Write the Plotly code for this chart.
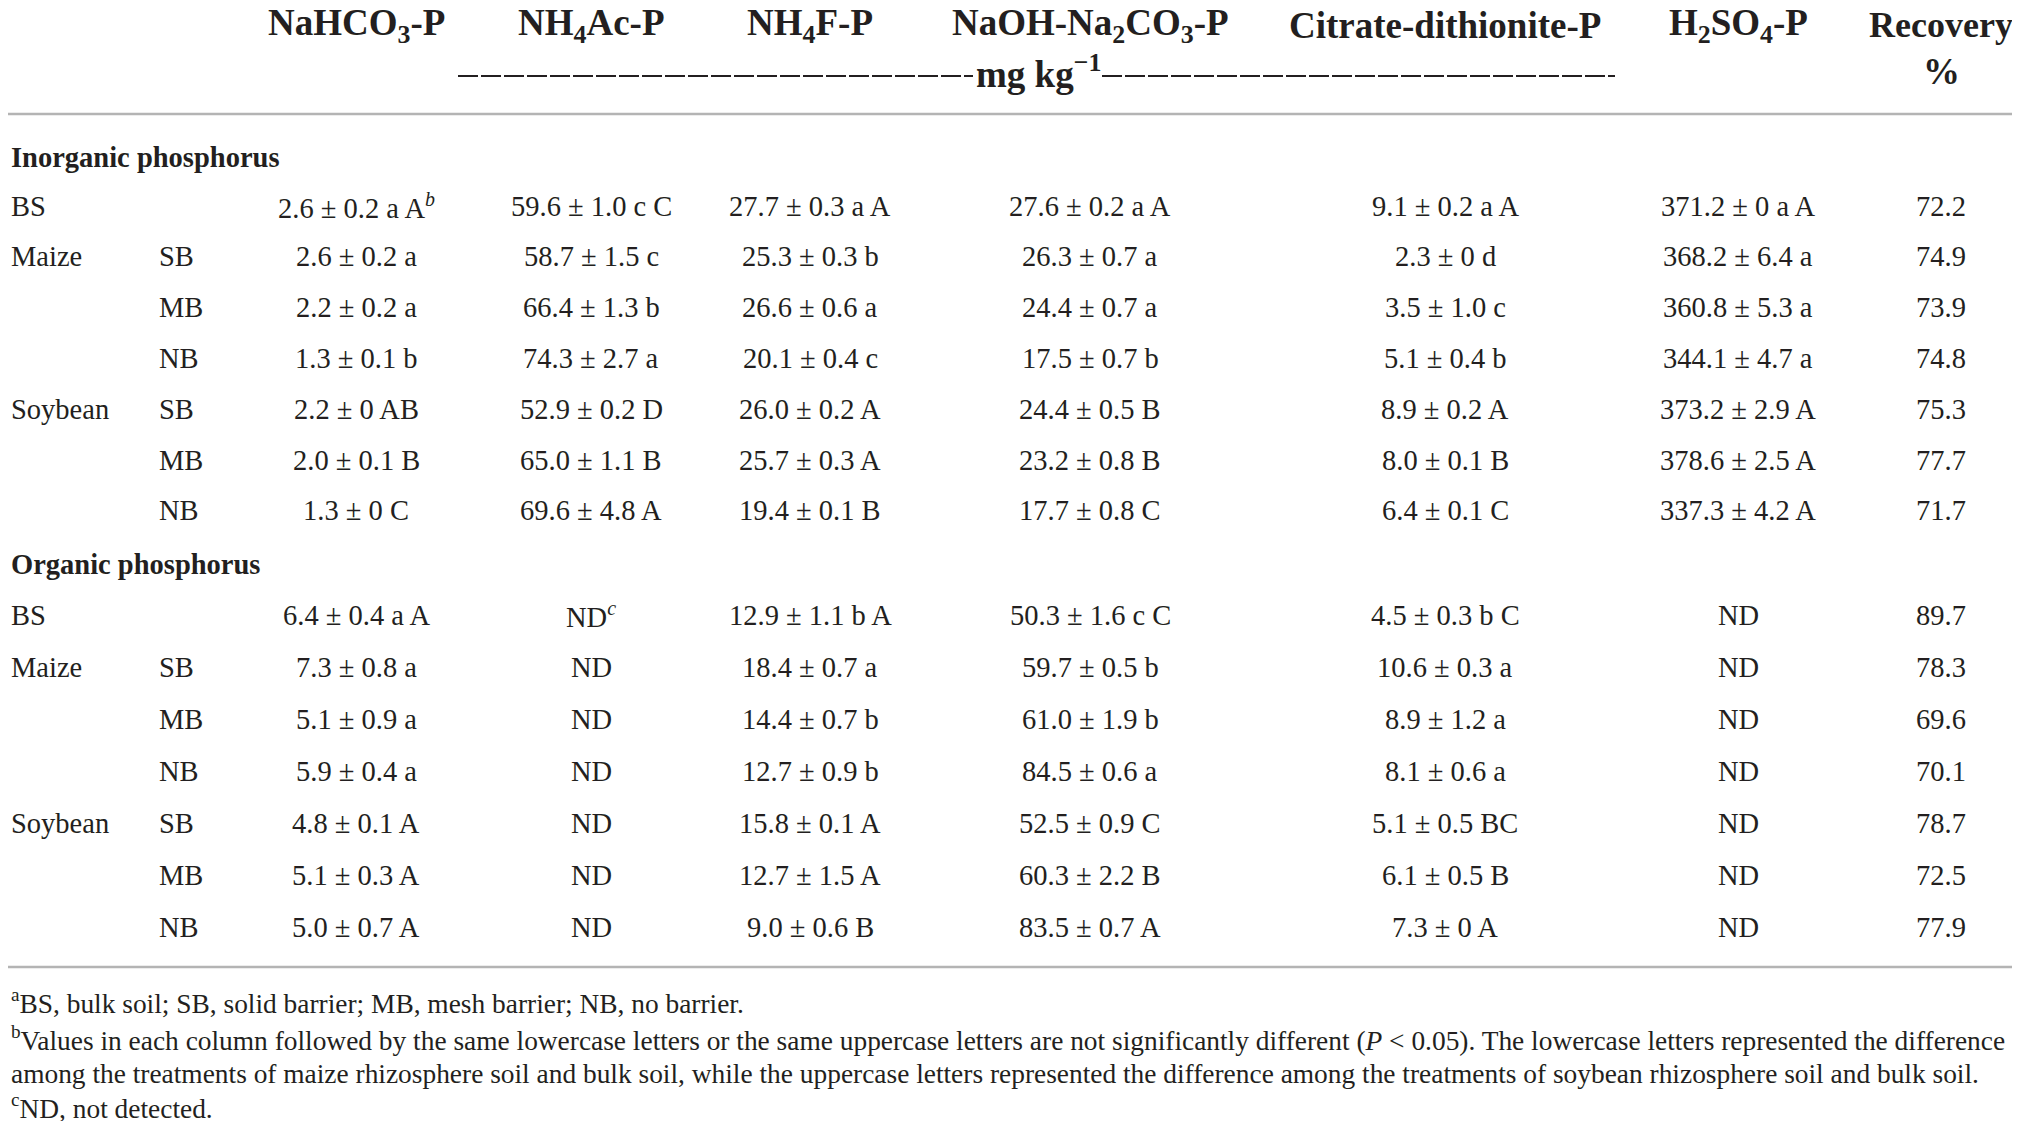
import plotly.graph_objects as go

# ---------------- data ----------------
col_headers = ["NaHCO<sub>3</sub>-P", "NH<sub>4</sub>Ac-P", "NH<sub>4</sub>F-P",
               "NaOH-Na<sub>2</sub>CO<sub>3</sub>-P", "Citrate-dithionite-P",
               "H<sub>2</sub>SO<sub>4</sub>-P", "Recovery"]
unit_main = "mg kg<sup>−1</sup>"
unit_recovery = "%"

section_titles = ["Inorganic phosphorus", "Organic phosphorus"]
groups = ["BS", "Maize", "", "", "Soybean", "", ""]
treatments = ["", "SB", "MB", "NB", "SB", "MB", "NB"]

inorg_nahco3 = ["2.6 ± 0.2 a A<sup><i>b</i></sup>", "2.6 ± 0.2 a", "2.2 ± 0.2 a", "1.3 ± 0.1 b",
                "2.2 ± 0 AB", "2.0 ± 0.1 B", "1.3 ± 0 C"]
inorg_nh4ac = ["59.6 ± 1.0 c C", "58.7 ± 1.5 c", "66.4 ± 1.3 b", "74.3 ± 2.7 a",
               "52.9 ± 0.2 D", "65.0 ± 1.1 B", "69.6 ± 4.8 A"]
inorg_nh4f = ["27.7 ± 0.3 a A", "25.3 ± 0.3 b", "26.6 ± 0.6 a", "20.1 ± 0.4 c",
              "26.0 ± 0.2 A", "25.7 ± 0.3 A", "19.4 ± 0.1 B"]
inorg_naoh = ["27.6 ± 0.2 a A", "26.3 ± 0.7 a", "24.4 ± 0.7 a", "17.5 ± 0.7 b",
              "24.4 ± 0.5 B", "23.2 ± 0.8 B", "17.7 ± 0.8 C"]
inorg_citrate = ["9.1 ± 0.2 a A", "2.3 ± 0 d", "3.5 ± 1.0 c", "5.1 ± 0.4 b",
                 "8.9 ± 0.2 A", "8.0 ± 0.1 B", "6.4 ± 0.1 C"]
inorg_h2so4 = ["371.2 ± 0 a A", "368.2 ± 6.4 a", "360.8 ± 5.3 a", "344.1 ± 4.7 a",
               "373.2 ± 2.9 A", "378.6 ± 2.5 A", "337.3 ± 4.2 A"]
inorg_recovery = ["72.2", "74.9", "73.9", "74.8", "75.3", "77.7", "71.7"]

org_nahco3 = ["6.4 ± 0.4 a A", "7.3 ± 0.8 a", "5.1 ± 0.9 a", "5.9 ± 0.4 a",
              "4.8 ± 0.1 A", "5.1 ± 0.3 A", "5.0 ± 0.7 A"]
org_nh4ac = ["ND<sup><i>c</i></sup>", "ND", "ND", "ND", "ND", "ND", "ND"]
org_nh4f = ["12.9 ± 1.1 b A", "18.4 ± 0.7 a", "14.4 ± 0.7 b", "12.7 ± 0.9 b",
            "15.8 ± 0.1 A", "12.7 ± 1.5 A", "9.0 ± 0.6 B"]
org_naoh = ["50.3 ± 1.6 c C", "59.7 ± 0.5 b", "61.0 ± 1.9 b", "84.5 ± 0.6 a",
            "52.5 ± 0.9 C", "60.3 ± 2.2 B", "83.5 ± 0.7 A"]
org_citrate = ["4.5 ± 0.3 b C", "10.6 ± 0.3 a", "8.9 ± 1.2 a", "8.1 ± 0.6 a",
               "5.1 ± 0.5 BC", "6.1 ± 0.5 B", "7.3 ± 0 A"]
org_h2so4 = ["ND", "ND", "ND", "ND", "ND", "ND", "ND"]
org_recovery = ["89.7", "78.3", "69.6", "70.1", "78.7", "72.5", "77.9"]

footnotes = [
    "<sup>a</sup>BS, bulk soil; SB, solid barrier; MB, mesh barrier; NB, no barrier.",
    "<sup>b</sup>Values in each column followed by the same lowercase letters or the same uppercase letters are not significantly different (<i>P</i> &lt; 0.05). The lowercase letters represented the difference",
    "among the treatments of maize rhizosphere soil and bulk soil, while the uppercase letters represented the difference among the treatments of soybean rhizosphere soil and bulk soil.",
    "<sup>c</sup>ND, not detected.",
]

# ---------------- layout constants (pixels of the 2020x1129 page) ----------------
PAGE_W, PAGE_H = 2020, 1129
BODY = 8                      # default page margin around the plot div
W, H = PAGE_W - 2 * BODY, PAGE_H - 2 * BODY
FONT = "Liberation Serif"
TXT = "#231f20"
HDR_SIZE = 37
HDR_SIZE_LAST = 36
DATA_SIZE = 28.5
FOOT_SIZE = 27.4
col_x = [356, 591, 810, 1090, 1445, 1738, 1941]
group_x = 8.5
treat_x = 157
header_y = 25
unit_y = 71
unit_x = 1038
dash_left = (458, 973)
dash_right = (1102, 1615)
dash_y = 76
rule_top = 114
sec_y = [157, 564]
first_row_y = [206, 615]
row_step = [50.8, 52.0]
rule_bottom = 967
foot_y = [1001, 1038, 1074, 1106]

inorg_cols = [inorg_nahco3, inorg_nh4ac, inorg_nh4f, inorg_naoh, inorg_citrate, inorg_h2so4, inorg_recovery]
org_cols = [org_nahco3, org_nh4ac, org_nh4f, org_naoh, org_citrate, org_h2so4, org_recovery]

ann = []

def add(text, x, y, size, xanchor="center", bold=False):
    ann.append(dict(text=("<b>%s</b>" % text) if bold else text, x=x, y=y, xref="x", yref="y",
                    xanchor=xanchor, yanchor="middle", showarrow=False,
                    font=dict(family=FONT, size=size, color=TXT)))

for i, (h, x) in enumerate(zip(col_headers, col_x)):
    add(h, x, header_y, HDR_SIZE_LAST if i == len(col_headers) - 1 else HDR_SIZE, bold=True)

add(unit_main, unit_x, unit_y, HDR_SIZE, bold=True)
add(unit_recovery, col_x[6], unit_y, HDR_SIZE, bold=True)

for s, (title, cols) in enumerate(zip(section_titles, [inorg_cols, org_cols])):
    add(title, group_x, sec_y[s], DATA_SIZE, xanchor="left", bold=True)
    for r in range(len(groups)):
        y = first_row_y[s] + r * row_step[s]
        if groups[r]:
            add(groups[r], group_x, y, DATA_SIZE, xanchor="left")
        if treatments[r]:
            add(treatments[r], treat_x, y, DATA_SIZE, xanchor="left")
        for c, x in enumerate(col_x):
            add(cols[c][r], x, y, DATA_SIZE)

for t, y in zip(footnotes, foot_y):
    add(t, group_x, y, FOOT_SIZE, xanchor="left")

fig = go.Figure()
fig.add_trace(go.Scatter(x=[BODY, PAGE_W - BODY], y=[BODY, PAGE_H - BODY], mode="markers",
                         marker=dict(opacity=0), hoverinfo="skip", showlegend=False))
for y in (rule_top, rule_bottom):
    fig.add_shape(type="line", x0=BODY, x1=2014, y0=y, y1=y, xref="x", yref="y",
                  line=dict(color="#b4b4b4", width=2.5))
for x0, x1 in (dash_left, dash_right):
    fig.add_shape(type="line", x0=x0, x1=x1, y0=dash_y, y1=dash_y, xref="x", yref="y",
                  line=dict(color=TXT, width=2.2, dash="20px,3px"))

fig.update_layout(
    width=W, height=H, margin=dict(l=0, r=0, t=0, b=0),
    paper_bgcolor="white", plot_bgcolor="white",
    xaxis=dict(range=[BODY, PAGE_W - BODY], visible=False, fixedrange=True),
    yaxis=dict(range=[PAGE_H - BODY, BODY], visible=False, fixedrange=True),
    annotations=ann, showlegend=False,
)
fig.write_html("out.html", config={"displayModeBar": False})
